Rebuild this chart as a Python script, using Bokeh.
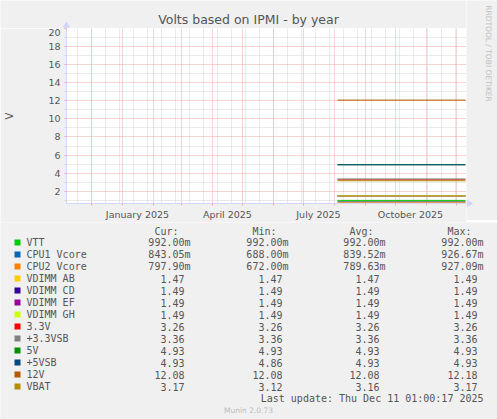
"""
Volts based on IPMI - by year (Munin style).
"""

from math import pi

import pandas as pd
from bokeh.plotting import figure
from bokeh.layouts import row, column
from bokeh.models import Range1d, FixedTicker, DatetimeTickFormatter
from bokeh.core.properties import value
from bokeh.embed import file_html
from bokeh.resources import INLINE

# --- datos ---
names = ["VTT", "CPU1 Vcore", "CPU2 Vcore", "VDIMM AB", "VDIMM CD", "VDIMM EF",
         "VDIMM GH", "3.3V", "+3.3VSB", "5V", "+5VSB", "12V", "VBAT"]
colors = ["#00CC00", "#0066B3", "#FF8000", "#FFCC00", "#330099", "#990099",
          "#CCFF00", "#FF0000", "#808080", "#008F00", "#00487D", "#B35A00", "#B38F00"]
cur = [0.992, 0.84305, 0.7979, 1.47, 1.49, 1.49, 1.49, 3.26, 3.36, 4.93, 4.93, 12.08, 3.17]
mins = [0.992, 0.688, 0.672, 1.47, 1.49, 1.49, 1.49, 3.26, 3.36, 4.93, 4.86, 12.08, 3.12]
avgs = [0.992, 0.83952, 0.78963, 1.47, 1.49, 1.49, 1.49, 3.26, 3.36, 4.93, 4.93, 12.08, 3.16]
maxs = [0.992, 0.92667, 0.92709, 1.49, 1.49, 1.49, 1.49, 3.26, 3.36, 4.93, 4.93, 12.18, 3.17]

# niveles visibles en la grafica (lineas planas desde agosto)
line_dates = ["2025-08-04", "2025-12-10"]
levels = [0.99, 0.84, 0.79, 1.47, 1.49, 1.49, 1.49, 3.26, 3.36, 4.93, 4.93, 12.08, 3.16]

label_dates = ["2025-01-16", "2025-04-16", "2025-07-16", "2025-10-16"]
y_ticks = [2, 4, 6, 8, 10, 12, 14, 16, 18, 20]
y_minor = [1, 3, 5, 7, 9, 11, 13, 15, 17, 19]
t_start = pd.Timestamp("2024-11-06 01:00")
t_end = pd.Timestamp("2025-12-11 01:00")
title = "Volts based on IPMI - by year"
last_update = "Last update: Thu Dec 11 01:00:17 2025"

BACK = "#F0F0F0"
MGRID = "#EEA8A8"
GRID = "#D4D4D4"
AXIS = "#CFD6F8"
FONT = "#555555"

W, H = 497, 419
FL, FW, FH = 66, 400, 175
FBOT = 17           # borde inferior de la grafica
TOP_H = 28          # franja del titulo
MAIN_H = FH + FBOT  # grafica principal
RIGHT_W = W - FL - FW
LEG_H = H - TOP_H - MAIN_H
Y0 = TOP_H + MAIN_H  # comienzo de la leyenda


def ms(fechas):
    return (pd.DatetimeIndex(fechas).astype("int64") // 10**6).tolist()


def lienzo(w, h):
    # figura sin ejes con coordenadas en pixeles (y hacia abajo)
    f = figure(width=w, height=h, output_backend="svg", toolbar_location=None,
               x_range=Range1d(0, w), y_range=Range1d(h, 0),
               min_border=0, x_axis_type=None, y_axis_type=None)
    f.grid.visible = False
    f.outline_line_color = None
    f.background_fill_color = BACK
    f.border_fill_color = BACK
    return f


def texto(f, x, y, t, size="10px", font="DejaVu Sans Mono", color=FONT,
          align="left", angle=0.0):
    f.text([x], [y], text=[t], text_font=value(font), text_font_size=size,
           text_color=color, text_align=align, text_baseline="middle", angle=angle)


# --- grafica principal ---
p = figure(frame_width=FW, frame_height=FH, x_axis_type="datetime", output_backend="svg",
           toolbar_location=None, x_range=Range1d(t_start, t_end),
           y_range=Range1d(0.645, 20),
           min_border_left=FL, min_border_right=0,
           min_border_top=0, min_border_bottom=FBOT)
p.border_fill_color = BACK
p.background_fill_color = "white"
p.outline_line_color = None

meses = ms(pd.date_range("2024-12-01", "2025-12-01", freq="MS"))
p.xgrid.ticker = FixedTicker(ticks=meses,
                             minor_ticks=ms(pd.date_range("2024-11-17", "2025-12-10", freq="14D")))
p.ygrid.ticker = FixedTicker(ticks=y_ticks, minor_ticks=y_minor)
for g in (p.xgrid, p.ygrid):
    g.grid_line_color = MGRID
    g.grid_line_dash = "1 1"
    g.minor_grid_line_color = GRID
    g.minor_grid_line_dash = "1 1"

p.xaxis.ticker = FixedTicker(ticks=ms(label_dates), minor_ticks=meses)
fmt = "%B %Y"
p.xaxis.formatter = DatetimeTickFormatter(days=fmt, months=fmt, years=fmt, hours=fmt)
p.xaxis.major_tick_line_color = None
p.xaxis.major_tick_out = 0
p.xaxis.major_tick_in = 0
p.xaxis.minor_tick_line_color = MGRID
p.xaxis.minor_tick_out = 2
p.xaxis.minor_tick_in = 0
p.xaxis.major_label_standoff = 3

p.yaxis.ticker = FixedTicker(ticks=y_ticks, minor_ticks=y_minor)
p.yaxis.major_tick_line_color = MGRID
p.yaxis.major_tick_out = 2
p.yaxis.major_tick_in = 0
p.yaxis.minor_tick_line_color = GRID
p.yaxis.minor_tick_out = 2
p.yaxis.minor_tick_in = 0
p.yaxis.major_label_standoff = 4
p.yaxis.axis_label = "V"
p.yaxis.axis_label_standoff = 30
p.yaxis.axis_label_text_font = "DejaVu Sans"
p.yaxis.axis_label_text_font_size = "10px"
p.yaxis.axis_label_text_font_style = "normal"
p.yaxis.axis_label_text_color = FONT

for ax in (p.xaxis, p.yaxis):
    ax.axis_line_color = AXIS
    ax.major_label_text_font = "DejaVu Sans"
    ax.major_label_text_font_size = "9.5px"
    ax.major_label_text_color = FONT

fechas = pd.to_datetime(line_dates)
for nombre, color, nivel in zip(names, colors, levels):
    p.line(fechas, [nivel, nivel], line_color=color, line_width=1)

# --- franja del titulo ---
top = lienzo(FL + FW, TOP_H)
texto(top, 248, 19, title, size="12.5px", font="DejaVu Sans", align="center")
top.scatter([FL], [25], marker="triangle", size=6, fill_color=AXIS, line_color=AXIS)

# --- franja derecha (firma rrdtool) ---
der = lienzo(RIGHT_W, TOP_H + MAIN_H)
texto(der, 488 - FL - FW, 53, "RRDTOOL / TOBI OETIKER", size="7.5px", font="DejaVu Sans",
      color="#C0C0C0", align="center", angle=-pi / 2)
der.scatter([2.5], [TOP_H + FH], marker="triangle", angle=-pi / 2, size=6,
            fill_color=AXIS, line_color=AXIS)

# --- leyenda (coordenadas del png original menos Y0) ---
leg = lienzo(W, LEG_H)
col_right = [190, 288, 385, 483]
for c, h in zip(col_right, ["Cur:", "Min:", "Avg:", "Max:"]):
    texto(leg, c - 12, 228.5 - Y0, h, align="right")


def fmt_val(v):
    if v < 1:
        return "%.2fm" % (v * 1000), 0
    return "%.2f" % v, 6


for i, nombre in enumerate(names):
    y = 240 + 12 * i - Y0
    leg.quad(left=[14], right=[20], top=[y - 3], bottom=[y + 3],
             fill_color=colors[i], line_color=None)
    texto(leg, 26, y, nombre)
    for c, serie in zip(col_right, [cur, mins, avgs, maxs]):
        s, off = fmt_val(serie[i])
        texto(leg, c - off, y, s, align="right")

texto(leg, 483, 396 - Y0, last_update, align="right")
texto(leg, 248, 408 - Y0, "Munin 2.0.73", size="7.5px", font="DejaVu Sans",
      color="#BBBBBB", align="center")

# las franjas van envueltas para que bokeh no alinee sus marcos con la grafica
layout = column(row(column(row(top), p), column(der)), leg)
open("out.html", "w").write(file_html(layout, INLINE))
